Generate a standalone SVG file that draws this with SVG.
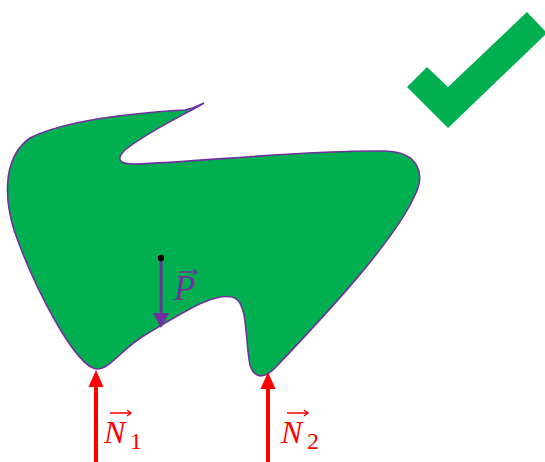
<svg xmlns="http://www.w3.org/2000/svg" width="545" height="462" viewBox="0 0 545 462">
<defs>
<style>
.body{fill:#00B050;stroke:#7030A0;stroke-width:1.6}
.force{stroke:#FF0000;stroke-width:4;fill:none}
.lbl{font-family:"Liberation Serif",serif;font-style:italic}
.sub{font-family:"Liberation Serif",serif}
.vec{stroke-width:1.4;fill:none}
</style>
</defs>
<g id="check"><polygon points="407,87 427,67 448,87 527,12 547,33 448,128" fill="#00B050"/></g>
<g id="body"><path class="body" d="M 96 369 C 75 365, 35 290, 14 230 C 2 190, 6 155, 30 138 C 70 118, 150 112, 185 110 C 195 108, 200 105, 204 103 C 190 112, 150 130, 125 150 C 115 160, 120 164, 135 164 C 200 162, 300 150, 385 151 C 420 152, 425 175, 415 195 C 395 240, 330 310, 275 368 C 265 378, 255 380, 250 365 C 245 340, 248 305, 235 298 C 215 290, 180 315, 145 335 C 120 350, 110 370, 96 369 Z"/></g>
<g id="connectors">
<g id="weight">
<line x1="161" y1="258" x2="161" y2="314" stroke="#7030A0" stroke-width="3"/>
<polygon points="153,313 169,313 161,328" fill="#7030A0"/>
<circle cx="161" cy="258" r="3.2" fill="#000"/>
</g>
<g id="n1">
<line class="force" x1="96" y1="385" x2="96" y2="462"/>
<polygon points="88.5,387 103.5,387 96,370" fill="#FF0000"/>
</g>
<g id="n2">
<line class="force" x1="268" y1="387" x2="268" y2="462"/>
<polygon points="260.5,389 275.5,389 268,372" fill="#FF0000"/>
</g>
</g>
<g id="label-P" fill="#7030A0">
<text class="lbl" x="174" y="300" font-size="35">P</text>
<path class="vec" stroke="#7030A0" d="M179 272 H197 M193 269 L197 272 L193 275"/>
</g>
<g id="label-N1" fill="#FF0000">
<text class="lbl" x="104" y="443" font-size="32">N</text>
<text class="sub" x="130" y="449" font-size="24">1</text>
<path class="vec" stroke="#FF0000" d="M110 413 H131 M127 410 L131 413 L127 416"/>
</g>
<g id="label-N2" fill="#FF0000">
<text class="lbl" x="281" y="443" font-size="32">N</text>
<text class="sub" x="307" y="449" font-size="24">2</text>
<path class="vec" stroke="#FF0000" d="M287 413 H308 M304 410 L308 413 L304 416"/>
</g>
</svg>
